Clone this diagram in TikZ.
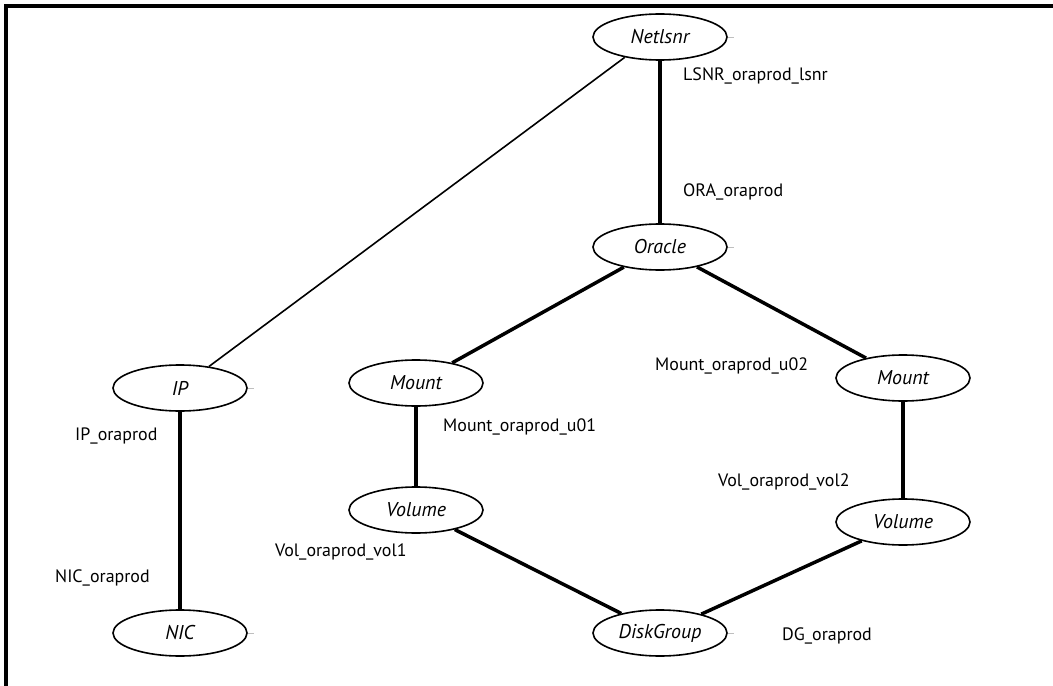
\documentclass[tikz,border=0pt]{standalone}
\usepackage{fontspec}
\setmainfont{PT Sans}
\usetikzlibrary{shapes.geometric}

\begin{document}
\begin{tikzpicture}[x=1bp,y=-1bp,
    res/.style={ellipse,draw,line width=1.6bp,minimum width=134bp,minimum height=46bp,
      inner sep=0pt,font=\fontsize{20}{23}\selectfont\itshape},
    lbl/.style={anchor=west,inner sep=0pt,font=\fontsize{18}{21}\selectfont},
    dep/.style={line width=3.5bp},
    weak/.style={line width=1.6bp},
    port/.style={draw=black!25,line width=0.8bp}]
  \useasboundingbox (0,0) rectangle (1053,686);
  % frame
  \draw[line width=4bp] (6,686) -- (6,6) -- (1053,6);
  % resources
  \node[res] (netlsnr) at (660,37) {Netlsnr};
  \node[res] (oracle)  at (660,247) {Oracle};
  \node[res] (mounta)  at (416,383) {Mount};
  \node[res] (mountb)  at (903,378) {Mount};
  \node[res] (vola)    at (416,510) {Volume};
  \node[res] (volb)    at (903,522) {Volume};
  \node[res] (dg)      at (660,633) {DiskGroup};
  \node[res] (ip)      at (180,388) {IP};
  \node[res] (nic)     at (180,633) {NIC};
  % resource names
  \node[lbl] (lsnrname)   at (683,76)  {LSNR\_oraprod\_lsnr};
  \node[lbl] (oraname)    at (683,192) {ORA\_oraprod};
  \node[lbl] (mntaname)   at (443,427) {Mount\_oraprod\_u01};
  \node[lbl] (mntbname)   at (655,366) {Mount\_oraprod\_u02};
  \node[lbl] (volbname)   at (718,482) {Vol\_oraprod\_vol2};
  \node[lbl] (volaname)   at (275,552) {Vol\_oraprod\_vol1};
  \node[lbl] (dgname)     at (782,636) {DG\_oraprod};
  \node[lbl] (ipname)     at (75,436)  {IP\_oraprod};
  \node[lbl] (nicname)    at (55,578)  {NIC\_oraprod};
  % dependencies
  \draw[dep] (netlsnr) -- (oracle);
  \draw[dep] (oracle) -- (mounta);
  \draw[dep] (oracle) -- (mountb);
  \draw[dep] (mounta) -- (vola);
  \draw[dep] (mountb) -- (volb);
  \draw[dep] (vola) -- (dg);
  \draw[dep] (volb) -- (dg);
  \draw[dep] (ip) -- (nic);
  \draw[weak] (ip) -- (netlsnr.210);
  % small port marks
  \foreach \n in {netlsnr,oracle,ip,nic,dg}
    \draw[port] (\n.east) -- ++(6,0);
\end{tikzpicture}
\end{document}
